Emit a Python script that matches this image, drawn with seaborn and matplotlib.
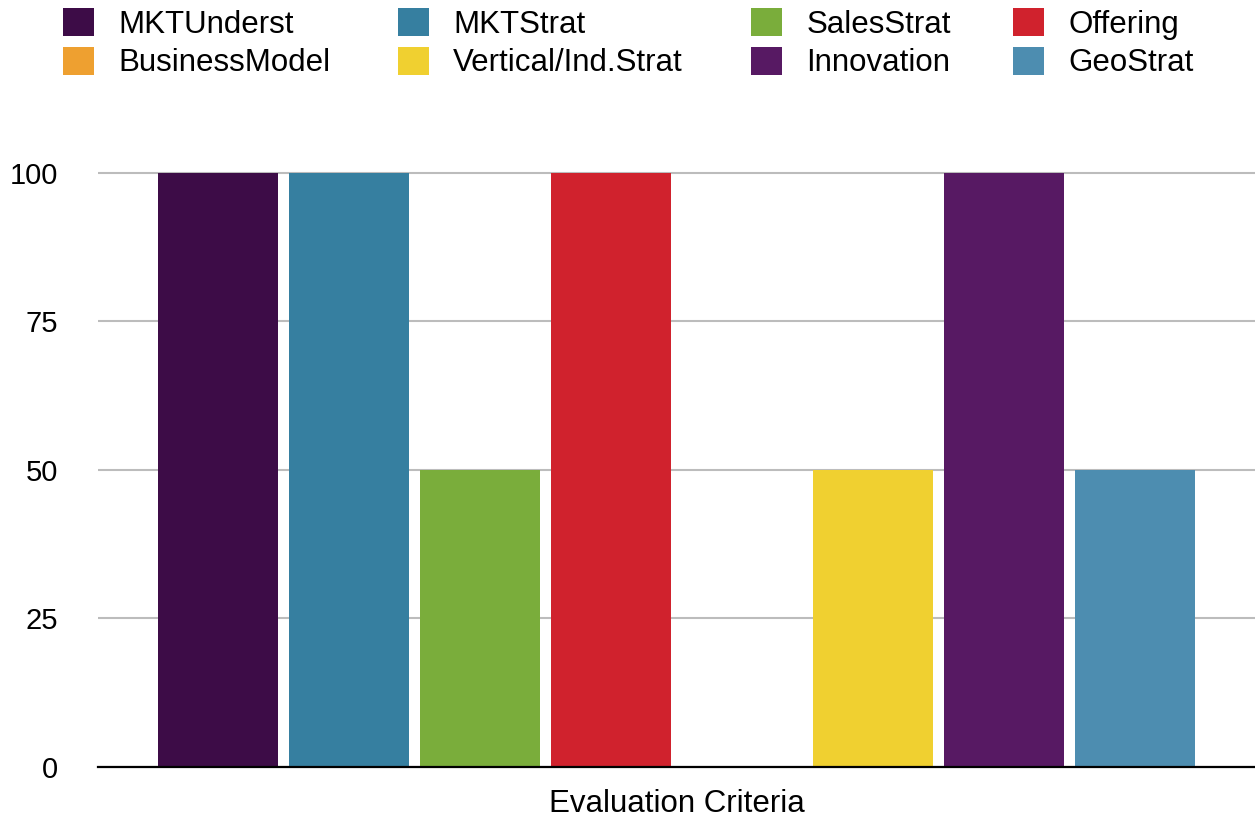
import matplotlib
matplotlib.use("Agg")
import matplotlib.pyplot as plt
from matplotlib.patches import Patch
import seaborn as sns
import pandas as pd

# Scores per evaluation criterion
criteria = ["MKTUnderst", "MKTStrat", "SalesStrat", "Offering",
            "BusinessModel", "Vertical/Ind.Strat", "Innovation", "GeoStrat"]
scores = [100, 100, 50, 100, 0, 50, 100, 50]
colors = ["#3D0C47", "#367FA0", "#7AAD3B", "#D0222D",
          "#EEA030", "#F0D030", "#571963", "#4D8DB0"]
group_label = "Evaluation Criteria"
y_ticks = [0, 25, 50, 75, 100]

df = pd.DataFrame({
    "group": [group_label] * len(criteria),
    "criterion": criteria,
    "score": scores,
})
palette = dict(zip(criteria, colors))

sns.set_theme(style="white")
plt.rcParams["font.family"] = ["Liberation Sans", "DejaVu Sans"]
plt.rcParams["text.color"] = "black"

W, H = 1255, 817
fig = plt.figure(figsize=(W / 100, H / 100), dpi=100)
ax = fig.add_axes([98 / W, 1 - 767 / H, 1 - 98 / W, 600 / H])

sns.barplot(data=df, x="group", y="score", hue="criterion",
            hue_order=criteria, palette=palette, width=0.906, gap=0.08,
            saturation=1, linewidth=0, legend=False, ax=ax)

ax.set_xlim(-0.5, 0.5)
ax.set_ylim(0, 101)
ax.set_yticks(y_ticks)
ax.yaxis.grid(True, color="#bcbcbc", linewidth=1.5)
ax.set_axisbelow(True)
ax.tick_params(axis="both", length=0, colors="black")
ax.tick_params(axis="y", pad=29, labelsize=21)
ax.tick_params(axis="x", pad=16, labelsize=22.5)
ax.set_xlabel("")
ax.set_ylabel("")
for side in ["top", "right", "left"]:
    ax.spines[side].set_visible(False)
ax.spines["bottom"].set_color("black")
ax.spines["bottom"].set_linewidth(1.6)
ax.spines["bottom"].set_zorder(5)

# Legend: four columns of two entries, filled row by row
ncol = 4
col_x = [63, 398, 751, 1013]
handles = [Patch(facecolor=c, edgecolor="none") for c in colors]
for c in range(ncol):
    idx = [c, c + ncol]
    fig.legend([handles[i] for i in idx], [criteria[i] for i in idx],
               loc="upper left",
               bbox_to_anchor=(col_x[c] / W, 1 - 8 / H),
               frameon=False, fontsize=22.5, labelcolor="black",
               handlelength=1.0, handleheight=1.0,
               handletextpad=0.77, labelspacing=0.22,
               borderaxespad=0, borderpad=0)

fig.savefig("out.png", dpi=100)
